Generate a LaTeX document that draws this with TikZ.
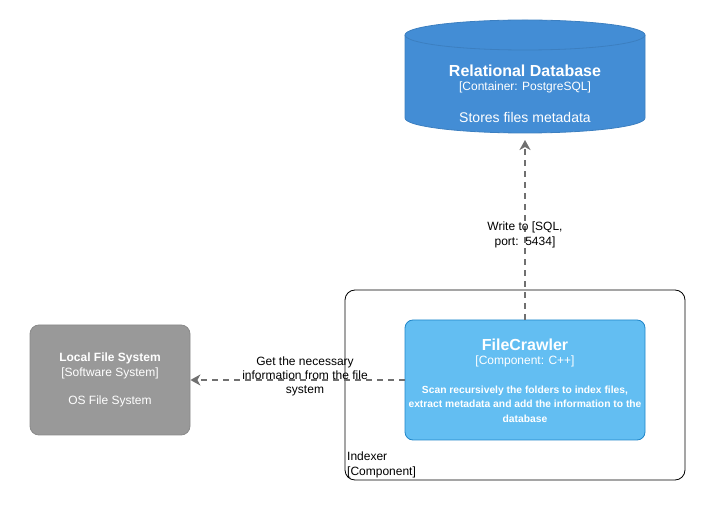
\documentclass[tikz,border=0pt]{standalone}
\usepackage{fontspec}
\setmainfont{Liberation Sans}
\usetikzlibrary{arrows.meta,shapes.geometric}
\definecolor{dbfill}{HTML}{438DD5}
\definecolor{dbstroke}{HTML}{3C7FC0}
\definecolor{compfill}{HTML}{63BEF2}
\definecolor{compstroke}{HTML}{2086C9}
\definecolor{sysfill}{HTML}{999999}
\definecolor{sysstroke}{HTML}{8A8A8A}
\definecolor{relcol}{HTML}{707070}
\tikzset{
  boxnode/.style={rounded corners=8pt, minimum width=240pt, minimum height=120pt, inner sep=0pt},
  rel/.style={draw=relcol, line width=1.8pt, dash pattern=on 6pt off 5pt, -{Stealth[length=10pt,width=11pt,inset=3pt]}},
  rellabel/.style={font=\fontsize{12}{14}\selectfont, text=black, align=center},
  wt/.style={text=white, align=center},
}
\begin{document}
\begin{tikzpicture}[x=1pt,y=-1pt]
\useasboundingbox (0,0) rectangle (710,510);
% Indexer boundary
\draw[black, line width=0.8pt, rounded corners=10pt] (345,290) rectangle (685,480);
\node[anchor=north west, inner sep=0pt, align=left, font=\fontsize{12}{14.5}\selectfont] (blabel) at (347,452) {Indexer\\{[}Component{]}};
% Database cylinder
\fill[dbfill] (405,35) -- (405,118) arc[x radius=120, y radius=15, start angle=180, end angle=0] -- (645,35) -- cycle;
\draw[dbstroke, line width=0.8pt] (405,35) -- (405,118) arc[x radius=120, y radius=15, start angle=180, end angle=0] -- (645,35);
\draw[dbstroke, fill=dbfill, line width=0.8pt] (525,35) ellipse[x radius=120, y radius=15];
\coordinate (dbbot) at (525,140);
\node[wt, font=\bfseries\fontsize{16}{18}\selectfont] (dbt) at (525,71) {Relational Database};
\node[wt, font=\fontsize{12}{14}\selectfont] (dbs) at (525,87) {[Container: PostgreSQL]};
\node[wt, font=\fontsize{14}{16}\selectfont] (dbd) at (525,117) {Stores files metadata};
% FileCrawler
\node[boxnode, fill=compfill, draw=compstroke, line width=0.8pt] (fc) at (525,380) {};
\node[wt, font=\bfseries\fontsize{16}{18}\selectfont] (fct) at (525,345) {FileCrawler};
\node[wt, font=\fontsize{12}{14}\selectfont] (fcs) at (525,361) {[Component: C++]};
\node[wt, font=\bfseries\fontsize{10.3}{14.5}\selectfont] (fcd) at (525,404) {Scan recursively the folders to index files,\\extract metadata and add the information to the\\database};
% Local File System
\node[rounded corners=9pt, minimum width=160pt, minimum height=110pt, fill=sysfill, draw=sysstroke, line width=0.8pt] (lfs) at (110,380) {};
\node[wt, font=\bfseries\fontsize{12}{14}\selectfont] (lfst) at (110,358) {Local File System};
\node[wt, font=\fontsize{12}{14}\selectfont] (lfss) at (110,373) {[Software System]};
\node[wt, font=\fontsize{12}{14}\selectfont] (lfsd) at (110,401) {OS File System};
% Relations
\draw[rel] (fc.north) -- (dbbot);
\node[rellabel, font=\fontsize{12}{15}\selectfont] (l1) at (525,235) {Write to [SQL,\\port:\ \ 5434]};
\draw[rel] (fc.west) -- (lfs.east);
\node[rellabel, font=\fontsize{12}{14}\selectfont] (l2) at (305,376) {Get the necessary\\information from the file\\system};
\end{tikzpicture}
\end{document}
